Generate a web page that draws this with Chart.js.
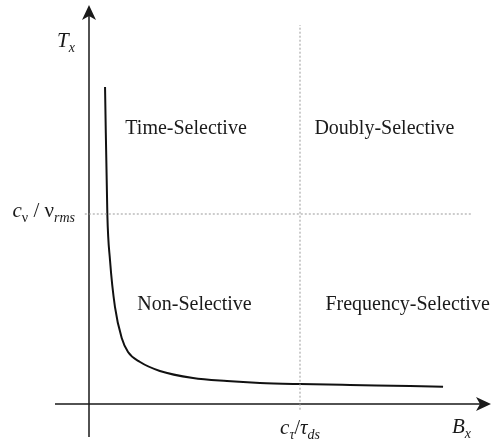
<!DOCTYPE html>
<html lang="en">
<head>
    <meta charset="UTF-8">
    <title>Channel classification: Tx vs Bx</title>
    <script src="https://cdn.jsdelivr.net/npm/chart.js"></script>
    <style>
        html, body { margin: 0; padding: 0; background: #fff; }
        #wrap { width: 491px; height: 447px; }
    </style>
</head>
<body>
<div id="wrap"><canvas id="myChart"></canvas></div>
<script>

// Data (B in units of c_tau/tau_ds, T in units of c_v/v_rms)
const curveB = [0.076, 0.087, 0.0995, 0.123, 0.155, 0.185, 0.242, 0.336, 0.493, 0.654, 0.810, 1.0, 1.237, 1.521, 1.678];
const curveT = [1.668, 0.995, 0.758, 0.511, 0.347, 0.274, 0.221, 0.174, 0.137, 0.121, 0.111, 0.105, 0.100, 0.095, 0.091];

const thresholdB = 1;   // c_tau / tau_ds
const thresholdT = 1;   // c_v / v_rms

const regionNames = ['Time-Selective', 'Doubly-Selective', 'Non-Selective', 'Frequency-Selective'];
const regionB = [0.46, 1.40, 0.50, 1.51];
const regionT = [1.45, 1.45, 0.52, 0.52];

const serif = "'Liberation Serif', 'Times New Roman', serif";

// curve points
const curvePts = curveB.map((b, i) => ({ x: b, y: curveT[i] }));

// draws text with italic / subscript parts
function drawRich(ctx, parts, x, y, align) {
    let total = 0;
    parts.forEach(p => {
        ctx.font = (p.it ? 'italic ' : '') + p.size + 'px ' + serif;
        p.w = ctx.measureText(p.t).width;
        total += p.w;
    });
    let cx = align === 'right' ? x - total : (align === 'center' ? x - total / 2 : x);
    ctx.textAlign = 'left';
    ctx.textBaseline = 'alphabetic';
    parts.forEach(p => {
        ctx.font = (p.it ? 'italic ' : '') + p.size + 'px ' + serif;
        ctx.fillText(p.t, cx, y + (p.sub ? 5 : 0));
        cx += p.w;
    });
}

function arrowHead(ctx, x, y, dir) {
    // dir: 'up' or 'right'
    ctx.save();
    ctx.translate(x, y);
    if (dir === 'right') ctx.rotate(Math.PI / 2);
    ctx.beginPath();
    ctx.moveTo(0, 0);
    ctx.lineTo(7, 15);
    ctx.lineTo(0, 11);
    ctx.lineTo(-7, 15);
    ctx.closePath();
    ctx.fill();
    ctx.restore();
}

const diagramPlugin = {
    id: 'diagram',
    beforeDatasetsDraw(chart) {
        const ctx = chart.ctx;
        const xs = chart.scales.x, ys = chart.scales.y;
        const x0 = xs.getPixelForValue(0), y0 = ys.getPixelForValue(0);
        ctx.save();
        ctx.strokeStyle = '#1a1a1a';
        ctx.fillStyle = '#1a1a1a';
        ctx.lineWidth = 1.5;
        // axes
        ctx.beginPath();
        ctx.moveTo(x0, 437);
        ctx.lineTo(x0, 12);
        ctx.moveTo(55, y0);
        ctx.lineTo(486, y0);
        ctx.stroke();
        arrowHead(ctx, x0, 5, 'up');
        arrowHead(ctx, 491, y0, 'right');
        ctx.restore();
    },
    afterDatasetsDraw(chart) {
        const ctx = chart.ctx;
        const xs = chart.scales.x, ys = chart.scales.y;
        const x0 = xs.getPixelForValue(0), y0 = ys.getPixelForValue(0);
        const xb = xs.getPixelForValue(thresholdB), yt = ys.getPixelForValue(thresholdT);
        ctx.save();
        ctx.fillStyle = '#1a1a1a';
        ctx.font = '20px ' + serif;
        ctx.textAlign = 'center';
        ctx.textBaseline = 'middle';
        regionNames.forEach((n, i) => {
            ctx.fillText(n, xs.getPixelForValue(regionB[i]), ys.getPixelForValue(regionT[i]));
        });
        // axis labels
        drawRich(ctx, [
            { t: 'T', it: true, size: 21 },
            { t: 'x', it: true, size: 14, sub: true }
        ], x0 - 14, 47, 'right');
        drawRich(ctx, [
            { t: 'c', it: true, size: 21 },
            { t: 'ν', size: 14, sub: true },
            { t: ' / ν', size: 21 },
            { t: 'rms', it: true, size: 14, sub: true }
        ], x0 - 14, yt + 3, 'right');
        drawRich(ctx, [
            { t: 'c', it: true, size: 21 },
            { t: 'τ', it: true, size: 14, sub: true },
            { t: '/', size: 20 },
            { t: 'τ', it: true, size: 21 },
            { t: 'ds', it: true, size: 14, sub: true }
        ], xb, 434, 'center');
        drawRich(ctx, [
            { t: 'B', it: true, size: 21 },
            { t: 'x', it: true, size: 14, sub: true }
        ], 452, 433, 'left');
        ctx.restore();
    }
};

const config = {
    type: 'scatter',
    data: {
        datasets: [
            {
                label: 'threshold B',
                data: [{ x: thresholdB, y: -0.03 }, { x: thresholdB, y: 1.995 }],
                showLine: true,
                borderColor: '#9a9a9a',
                borderWidth: 1,
                borderDash: [2, 2],
                pointRadius: 0
            },
            {
                label: 'threshold T',
                data: [{ x: -0.02, y: thresholdT }, { x: 1.815, y: thresholdT }],
                showLine: true,
                borderColor: '#9a9a9a',
                borderWidth: 1,
                borderDash: [2, 2],
                pointRadius: 0
            },
            {
                label: 'boundary',
                data: curvePts,
                showLine: true,
                borderColor: '#111',
                borderWidth: 2,
                cubicInterpolationMode: 'monotone',
                pointRadius: 0
            }
        ]
    },
    options: {
        responsive: true,
        maintainAspectRatio: false,
        animation: false,
        layout: { padding: 0 },
        plugins: {
            legend: { display: false },
            tooltip: { enabled: false }
        },
        scales: {
            x: { type: 'linear', display: false, min: -89 / 211, max: 402 / 211 },
            y: { type: 'linear', display: false, min: -43 / 190, max: 404 / 190 }
        }
    },
    plugins: [diagramPlugin]
};

const ctx = document.getElementById('myChart').getContext('2d');
const myChart = new Chart(ctx, config);

</script>
</body>
</html>
